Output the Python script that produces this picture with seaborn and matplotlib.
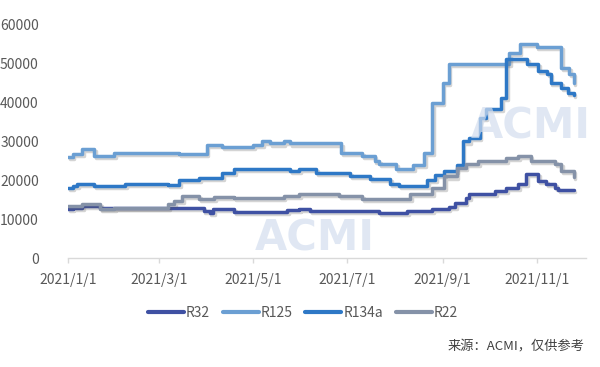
import matplotlib
matplotlib.use("Agg")
import matplotlib.pyplot as plt
import matplotlib.dates as mdates
import matplotlib.patheffects as pe
from matplotlib.lines import Line2D
import pandas as pd
import seaborn as sns

# ---------------- data ----------------
r32_dates = ["2021-01-01", "2021-01-04", "2021-01-10", "2021-01-22", "2021-03-30", "2021-04-03",
             "2021-04-05", "2021-04-19", "2021-05-23", "2021-05-31", "2021-06-07", "2021-07-22",
             "2021-08-09", "2021-08-25", "2021-09-05", "2021-09-09", "2021-09-16", "2021-09-18",
             "2021-10-05", "2021-10-12", "2021-10-20", "2021-10-25", "2021-11-02", "2021-11-07",
             "2021-11-13", "2021-11-15", "2021-11-25"]
r32_vals = [12600, 12900, 13400, 13000, 12100, 11600,
            12600, 11800, 12400, 12600, 12100, 11600,
            12000, 12600, 13100, 14200, 15500, 16500,
            17200, 18000, 19100, 21600, 19800, 19100,
            18000, 17500, 17500]

r125_dates = ["2021-01-01", "2021-01-04", "2021-01-10", "2021-01-18", "2021-01-31", "2021-03-14",
              "2021-04-01", "2021-04-11", "2021-05-01", "2021-05-07", "2021-05-12", "2021-05-21",
              "2021-05-25", "2021-06-27", "2021-07-11", "2021-07-19", "2021-07-22", "2021-08-02",
              "2021-08-13", "2021-08-20", "2021-08-25", "2021-09-01", "2021-09-05", "2021-10-14",
              "2021-10-21", "2021-11-01", "2021-11-17", "2021-11-22", "2021-11-25"]
r125_vals = [26000, 26700, 28000, 26200, 27000, 26700,
             29000, 28500, 29000, 30000, 29500, 30000,
             29500, 27000, 26300, 25000, 24200, 23000,
             24000, 27000, 40000, 45000, 50000, 52800,
             55000, 54300, 49000, 47500, 45000]

r134a_dates = ["2021-01-01", "2021-01-04", "2021-01-07", "2021-01-18", "2021-02-07", "2021-03-07",
               "2021-03-14", "2021-03-27", "2021-04-11", "2021-04-19", "2021-05-25", "2021-05-31",
               "2021-06-11", "2021-07-03", "2021-07-16", "2021-07-29", "2021-08-04", "2021-08-22",
               "2021-08-27", "2021-09-02", "2021-09-10", "2021-09-14", "2021-09-18", "2021-09-25",
               "2021-09-29", "2021-10-09", "2021-10-12", "2021-10-26", "2021-11-02", "2021-11-08",
               "2021-11-10", "2021-11-17", "2021-11-21", "2021-11-25"]
r134a_vals = [18000, 18500, 19000, 18500, 19000, 18800,
              20000, 20500, 22000, 23000, 22500, 23000,
              22000, 21100, 20300, 19000, 18500, 20000,
              21500, 22500, 24000, 30000, 31000, 36000,
              38400, 41200, 51200, 50000, 48200, 47400,
              45000, 43800, 42500, 42000]

r22_dates = ["2021-01-01", "2021-01-10", "2021-01-22", "2021-01-31", "2021-03-07", "2021-03-11",
             "2021-03-16", "2021-03-27", "2021-04-06", "2021-04-19", "2021-05-21", "2021-05-31",
             "2021-06-26", "2021-07-11", "2021-08-11", "2021-08-25", "2021-09-02", "2021-09-10",
             "2021-09-16", "2021-09-24", "2021-10-12", "2021-10-20", "2021-10-28", "2021-11-13",
             "2021-11-17", "2021-11-25"]
r22_vals = [13400, 13900, 12600, 13000, 13900, 14700,
            16000, 15200, 15700, 15500, 16000, 16500,
            16000, 15200, 16500, 18000, 21000, 23200,
            24200, 25000, 25800, 26300, 25000, 24200,
            22400, 20900]

series_names = ["R32", "R125", "R134a", "R22"]
series_colors = ["#3f51a3", "#6b9fd3", "#2e78c6", "#8592a8"]
x_ticks = ["2021-01-01", "2021-03-01", "2021-05-01", "2021-07-01", "2021-09-01", "2021-11-01"]
y_ticks = [0, 10000, 20000, 30000, 40000, 50000, 60000]
source_text = "来源：ACMI，仅供参考"

# ---------------- build frame ----------------
frames = []
for name, d, v in zip(series_names,
                      [r32_dates, r125_dates, r134a_dates, r22_dates],
                      [r32_vals, r125_vals, r134a_vals, r22_vals]):
    frames.append(pd.DataFrame({"date": pd.to_datetime(d), "value": v, "series": name}))
df = pd.concat(frames, ignore_index=True)

sns.set_theme(style="white")
plt.rcParams["font.family"] = ["Noto Sans CJK SC", "DejaVu Sans"]

fig = plt.figure(figsize=(6.0, 3.67), dpi=100)
ax = fig.add_axes([0.1133, 0.2970, 0.8634, 0.6349])

# faint watermarks (inside the chart, away from other texts)
wm_color = "#d3deef"
for (x, y) in [(0.525, 0.35), (0.885, 0.655)]:
    fig.text(x, y, "ACMI", fontsize=30, fontweight="bold", color=wm_color,
             ha="center", va="center", alpha=0.7, zorder=0, family="DejaVu Sans")

sns.lineplot(data=df, x="date", y="value", hue="series", hue_order=series_names,
             palette=series_colors, ax=ax, linewidth=2.5, drawstyle="steps-post",
             legend=False)
for line in ax.get_lines():
    line.set_path_effects([pe.SimpleLineShadow(offset=(1.2, -1.5), alpha=0.25, shadow_color="#555555"),
                           pe.Normal()])

ax.set_xlim(pd.Timestamp("2021-01-01"), pd.Timestamp("2021-12-03"))
ax.set_ylim(0, 60000)
ax.set_xticks(pd.to_datetime(x_ticks))
ax.xaxis.set_major_formatter(mdates.DateFormatter("%Y/%-m/%-d"))
ax.set_yticks(y_ticks)
ax.set_yticklabels([str(t) for t in y_ticks])
ax.set_xlabel("")
ax.set_ylabel("")
ax.patch.set_alpha(0)
for s in ["top", "right", "left"]:
    ax.spines[s].set_visible(False)
ax.spines["bottom"].set_color("#d9d9d9")
ax.spines["bottom"].set_linewidth(1.0)
ax.tick_params(axis="x", bottom=True, length=3.5, width=1.0, color="#d9d9d9",
               labelsize=10, labelcolor="#595959", pad=7)
ax.tick_params(axis="y", left=False, labelsize=10, labelcolor="#595959", pad=15)

# legend
handles = [Line2D([0], [0], color=c, lw=3) for c in series_colors]
fig.legend(handles, series_names, loc="center", bbox_to_anchor=(0.505, 0.147), ncol=4,
           frameon=False, fontsize=10, handlelength=2.6, handletextpad=0.15,
           columnspacing=0.9, labelcolor="#595959")

fig.text(0.975, 0.055, source_text, ha="right", va="center", fontsize=9.5, color="#404040")

fig.savefig("out.png", dpi=100)
